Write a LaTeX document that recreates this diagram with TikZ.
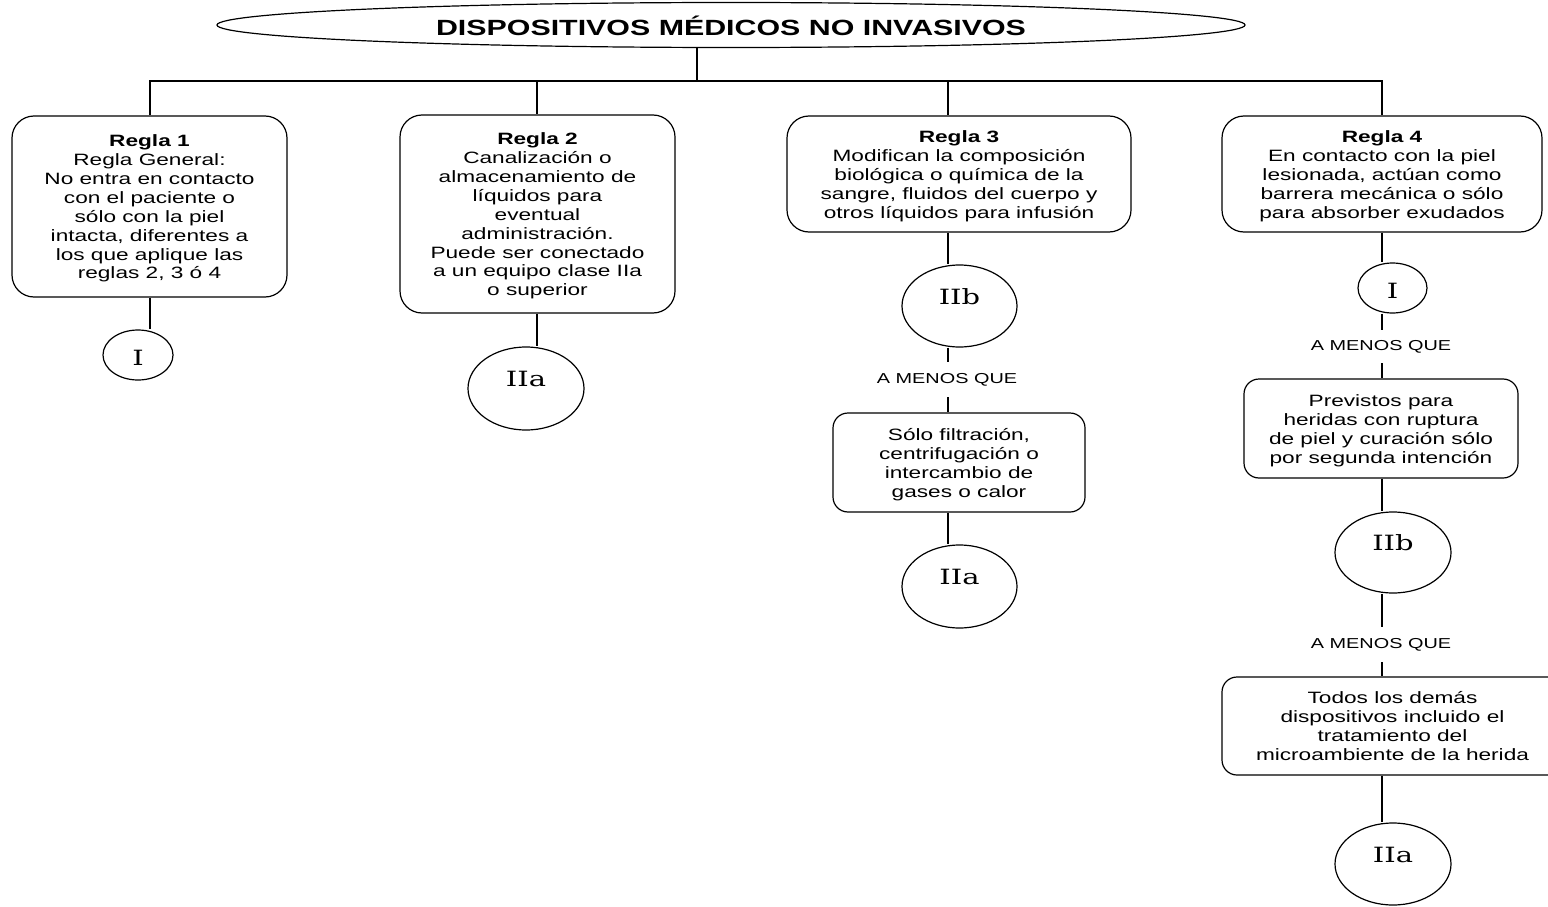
\documentclass[tikz,border=0pt]{standalone}
\usepackage{fontspec}
\setmainfont{Liberation Sans}
\newfontfamily\circfont{DejaVu Serif}
\usepackage{graphicx}
\usetikzlibrary{shapes.geometric}
\newcommand{\sx}[1]{\scalebox{1.38}[1]{#1}}
\newcommand{\blk}[1]{\raisebox{-2.5pt}[\height][\depth]{\sx{\begin{tabular}{@{}c@{}}#1\end{tabular}}}}
\newcommand{\bigcl}[1]{\raisebox{9.5pt}[\height][\depth]{\sx{#1}}}
\newcommand{\smallcl}[1]{\raisebox{-3pt}[\height][\depth]{\sx{#1}}}
\tikzset{
  rbox/.style={draw, line width=1.2pt, rounded corners=22pt, inner sep=0pt, align=center,
    font=\fontsize{16.4}{18.9}\selectfont},
  sbox/.style={rbox, rounded corners=15pt},
  cls/.style={draw, ellipse, line width=1.2pt, inner sep=0pt, font=\circfont\fontsize{21}{23}\selectfont},
  menos/.style={inner sep=0pt, minimum height=34pt, font=\fontsize{14.4}{16}\selectfont},
  conn/.style={line width=1.2pt},
  titleell/.style={draw, ellipse, line width=1.2pt, inner sep=0pt, font=\bfseries\fontsize{22}{24}\selectfont}
}
\begin{document}
\begin{tikzpicture}[x=1pt,y=-1pt]
\useasboundingbox (0,0) rectangle (1548,907);
\fill[white] (0,0) rectangle (1548,907);
% title
\node[titleell, minimum width=1028pt, minimum height=45pt] (title) at (731,25)
  {\raisebox{-1pt}[\height][\depth]{\sx{DISPOSITIVOS MÉDICOS NO INVASIVOS}}};
% column line coordinates
\coordinate (bus) at (697,81);
\coordinate (l1) at (150,81);
\coordinate (l2) at (537,81);
\coordinate (l3) at (948,81);
\coordinate (l4) at (1382,81);
% rule boxes
\node[rbox, minimum width=275pt, minimum height=181pt] (b1) at (149.5,206.5)
  {\blk{\textbf{Regla 1}\\Regla General:\\No entra en contacto\\con el paciente o\\sólo con la piel\\intacta, diferentes a\\los que aplique las\\reglas 2, 3 ó 4}};
\node[rbox, minimum width=275pt, minimum height=198pt] (b2) at (537.5,214)
  {\blk{\textbf{Regla 2}\\Canalización o\\almacenamiento de\\líquidos para\\eventual\\administración.\\Puede ser conectado\\a un equipo clase IIa\\o superior}};
\node[rbox, minimum width=344pt, minimum height=116pt] (b3) at (959,174)
  {\blk{\textbf{Regla 3}\\Modifican la composición\\biológica o química de la\\sangre, fluidos del cuerpo y\\otros líquidos para infusión}};
\node[rbox, minimum width=320pt, minimum height=116pt] (b4) at (1382,174)
  {\blk{\textbf{Regla 4}\\En contacto con la piel\\lesionada, actúan como\\barrera mecánica o sólo\\para absorber exudados}};
% class circles
\node[cls, minimum width=70pt, minimum height=50pt] (c1) at (138,355) {\smallcl{I}};
\node[cls, minimum width=116pt, minimum height=83pt] (c2) at (526,388.5) {\bigcl{IIa}};
\node[cls, minimum width=115pt, minimum height=82pt] (c3a) at (959.5,306) {\bigcl{IIb}};
\node[menos, minimum height=35pt] (m3) at (947,379.5) {\sx{A MENOS QUE}};
\node[sbox, minimum width=252pt, minimum height=99pt] (s3) at (959,462.5)
  {\blk{Sólo filtración,\\centrifugación o\\intercambio de\\gases o calor}};
\node[cls, minimum width=115pt, minimum height=83pt] (c3b) at (959.5,586.5) {\bigcl{IIa}};
\node[cls, minimum width=69pt, minimum height=50pt] (c4a) at (1392.5,288) {\smallcl{I}};
\node[menos, minimum height=33pt] (m4a) at (1381,346.5) {\sx{A MENOS QUE}};
\node[sbox, minimum width=274pt, minimum height=99pt] (s4a) at (1381,428.5)
  {\blk{Previstos para\\heridas con ruptura\\de piel y curación sólo\\por segunda intención}};
\node[cls, minimum width=116pt, minimum height=81pt] (c4b) at (1393,552.5) {\bigcl{IIb}};
\node[menos, minimum height=35pt] (m4b) at (1381,644.5) {\sx{A MENOS QUE}};
\node[sbox, minimum width=341pt, minimum height=98pt] (s4b) at (1392.5,726)
  {\blk{Todos los demás\\dispositivos incluido el\\tratamiento del\\microambiente de la herida}};
\node[cls, minimum width=116pt, minimum height=82pt] (c4c) at (1393,864) {\bigcl{IIa}};
% top connectors
\draw[conn] (bus |- title.south) -- (bus);
\draw[conn] (l1 |- b1.north) -- (l1) -- (l4) -- (l4 |- b4.north);
\draw[conn] (l2) -- (l2 |- b2.north);
\draw[conn] (l3) -- (l3 |- b3.north);
% column 1
\draw[conn] (l1 |- b1.south) -- (l1 |- c1.north);
% column 2
\draw[conn] (l2 |- b2.south) -- (l2 |- c2.north);
% column 3
\draw[conn] (l3 |- b3.south) -- (l3 |- c3a.north);
\draw[conn] (l3 |- c3a.south) -- (l3 |- m3.north);
\draw[conn] (l3 |- m3.south) -- (l3 |- s3.north);
\draw[conn] (l3 |- s3.south) -- (l3 |- c3b.north);
% column 4
\draw[conn] (l4 |- b4.south) -- (l4 |- c4a.north);
\draw[conn] (l4 |- c4a.south) -- (l4 |- m4a.north);
\draw[conn] (l4 |- m4a.south) -- (l4 |- s4a.north);
\draw[conn] (l4 |- s4a.south) -- (l4 |- c4b.north);
\draw[conn] (l4 |- c4b.south) -- (l4 |- m4b.north);
\draw[conn] (l4 |- m4b.south) -- (l4 |- s4b.north);
\draw[conn] (l4 |- s4b.south) -- (l4 |- c4c.north);
\end{tikzpicture}
\end{document}
